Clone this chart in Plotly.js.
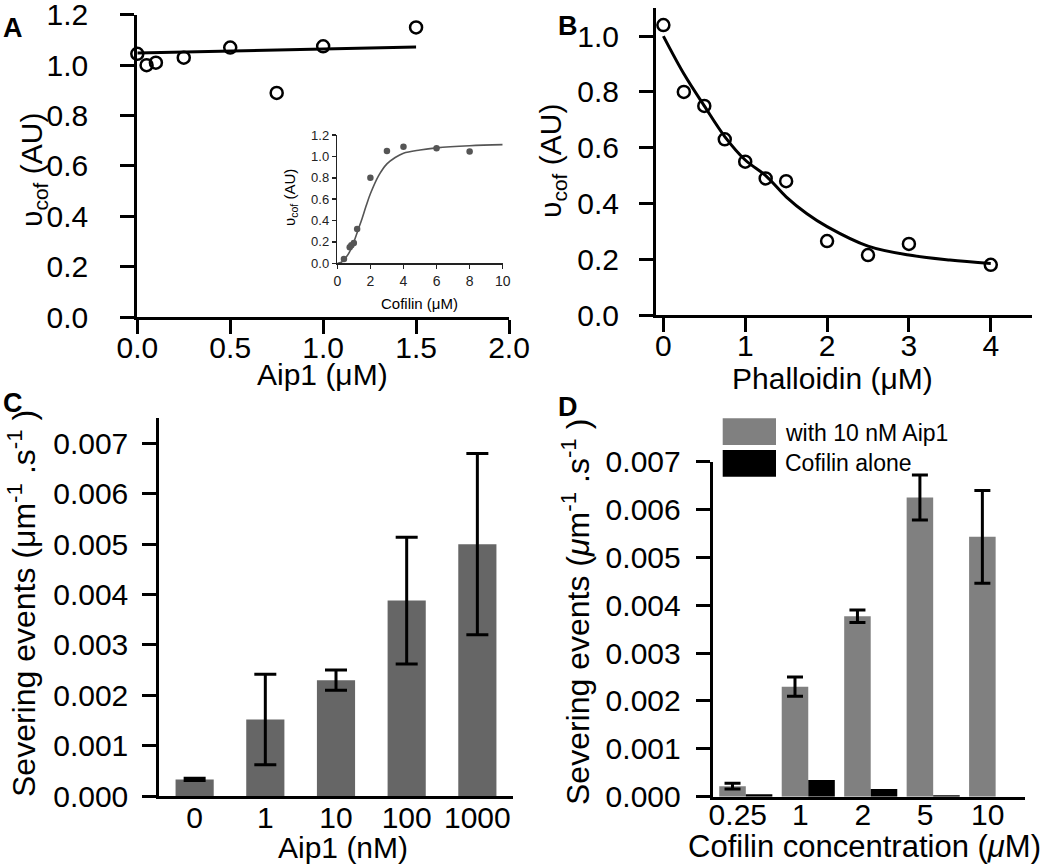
<!DOCTYPE html>
<html>
<head>
<meta charset="utf-8">
<script src="https://cdn.plot.ly/plotly-3.0.1.min.js"></script>
<style>html,body{margin:0;padding:0;background:#fff;}#chart{width:1050px;height:867px;}</style>
</head>
<body>
<div id="chart"></div>
<script>
// ---------- Data ----------
// Panel A
const aip1_uM = [0, 0.05, 0.1, 0.25, 0.5, 0.75, 1.0, 1.5];
const vcof_A = [1.045, 1.0, 1.01, 1.03, 1.07, 0.89, 1.075, 1.15];
const fitA_x = [0, 1.5];
const fitA_y = [1.048, 1.072];
// Panel A inset
const cofilin_inset_uM = [0.15, 0.4, 0.75, 0.85, 1.0, 1.2, 2, 3, 4, 6, 8];
const vcof_inset = [-0.01, 0.04, 0.15, 0.17, 0.19, 0.32, 0.80, 1.05, 1.09, 1.075, 1.045];
const fitInset_x = [0, 0.25, 0.5, 0.75, 1, 1.25, 1.5, 1.75, 2, 2.5, 3, 3.5, 4, 5, 6, 8, 10];
const fitInset_y = [0, 0.01, 0.05, 0.11, 0.2, 0.31, 0.42, 0.54, 0.65, 0.82, 0.93, 0.99, 1.03, 1.06, 1.08, 1.10, 1.11];
// Panel B
const phalloidin_uM = [0, 0.25, 0.5, 0.75, 1.0, 1.25, 1.5, 2.0, 2.5, 3.0, 4.0];
const vcof_B = [1.04, 0.80, 0.75, 0.63, 0.55, 0.49, 0.48, 0.265, 0.215, 0.255, 0.18];
const fitB_x = [0, 0.25, 0.5, 0.75, 1, 1.25, 1.5, 1.75, 2, 2.5, 3, 3.5, 4];
const fitB_y = [1.0, 0.865, 0.75, 0.64, 0.556, 0.50, 0.424, 0.364, 0.317, 0.247, 0.215, 0.197, 0.185];
// Panel C
const aip1_nM = ['0', '1', '10', '100', '1000'];
const sev_C = [0.00033, 0.00152, 0.0023, 0.00388, 0.0050];
const sev_C_err = [0.00002, 0.0009, 0.0002, 0.00126, 0.0018];
// Panel D
const cofilin_conc = ['0.25', '1', '2', '5', '10'];
const sev_D_aip1 = [0.00022, 0.0023, 0.00377, 0.00625, 0.00543];
const sev_D_aip1_err = [0.00006, 0.0002, 0.00013, 0.00047, 0.00097];
const sev_D_alone = [0.00005, 0.00035, 0.00016, 0.00003, 0];
const legendD = ['with 10 nM Aip1', 'Cofilin alone'];

// ---------- Helpers ----------
const W = 1050, H = 867;
const px = v => v / W;
const py = v => 1 - v / H;
const FONT = 'Liberation Sans, Arial, Helvetica, sans-serif';

const axBase = {
  showline: true, linecolor: '#000', linewidth: 3,
  ticks: 'outside', ticklen: 14, tickwidth: 3, tickcolor: '#000',
  showgrid: false, zeroline: false, fixedrange: true,
  ticklabeloverflow: 'allow',
  tickfont: {family: FONT, size: 30, color: '#000'}
};
const insetAx = {
  showline: true, linecolor: '#222', linewidth: 1.5,
  ticks: 'outside', ticklen: 4, tickwidth: 1.5, tickcolor: '#222',
  showgrid: false, zeroline: false, fixedrange: true,
  ticklabeloverflow: 'allow',
  tickfont: {family: FONT, size: 13, color: '#222'}
};
const ax = (extra) => Object.assign({}, axBase, extra);

const traces = [
  // Panel A
  {x: fitA_x, y: fitA_y, xaxis: 'x', yaxis: 'y', mode: 'lines', line: {color: '#000', width: 3}, cliponaxis: false},
  {x: aip1_uM, y: vcof_A, xaxis: 'x', yaxis: 'y', mode: 'markers', cliponaxis: false,
   marker: {symbol: 'circle-open', size: 12, color: '#000', line: {width: 2.5, color: '#000'}}},
  // Inset
  {x: fitInset_x, y: fitInset_y, xaxis: 'x5', yaxis: 'y5', mode: 'lines', line: {color: '#555', width: 1.6, shape: 'spline'}, cliponaxis: false},
  {x: cofilin_inset_uM, y: vcof_inset, xaxis: 'x5', yaxis: 'y5', mode: 'markers', cliponaxis: false,
   marker: {symbol: 'circle', size: 6.5, color: '#555'}},
  // Panel B
  {x: fitB_x, y: fitB_y, xaxis: 'x2', yaxis: 'y2', mode: 'lines', line: {color: '#000', width: 3, shape: 'spline'}, cliponaxis: false},
  {x: phalloidin_uM, y: vcof_B, xaxis: 'x2', yaxis: 'y2', mode: 'markers', cliponaxis: false,
   marker: {symbol: 'circle-open', size: 12, color: '#000', line: {width: 2.5, color: '#000'}}},
  // Panel C
  {type: 'bar', x: aip1_nM, y: sev_C, xaxis: 'x3', yaxis: 'y3', width: 0.54,
   marker: {color: '#666666'},
   error_y: {type: 'data', array: sev_C_err, visible: true, color: '#000', thickness: 3, width: 11}},
  // Panel D
  {type: 'bar', name: legendD[0], x: cofilin_conc, y: sev_D_aip1, xaxis: 'x4', yaxis: 'y4',
   marker: {color: '#808080'},
   error_y: {type: 'data', array: sev_D_aip1_err, visible: true, color: '#000', thickness: 3, width: 8}},
  {type: 'bar', name: legendD[1], x: cofilin_conc, y: sev_D_alone, xaxis: 'x4', yaxis: 'y4',
   marker: {color: '#000000'}}
];

const ann = (text, x, y, size, extra) => Object.assign({
  text, x: px(x), y: py(y), xref: 'paper', yref: 'paper', showarrow: false,
  xanchor: 'center', yanchor: 'middle', font: {family: FONT, size, color: '#000'}
}, extra || {});

const layout = {
  width: W, height: H,
  margin: {l: 0, r: 0, t: 0, b: 0},
  paper_bgcolor: '#fff', plot_bgcolor: 'rgba(0,0,0,0)',
  showlegend: false,
  barmode: 'group', bargap: 0.15, bargroupgap: 0,
  // Panel A
  xaxis: ax({domain: [px(137.3), px(509)], range: [0, 2], dtick: 0.5, tick0: 0, tickformat: '.1f', anchor: 'y', ticklabelstandoff: -12}),
  yaxis: ax({domain: [py(317), py(14.8)], range: [0, 1.2001], dtick: 0.2, tick0: 0, tickformat: '.1f', anchor: 'x', ticklabelstandoff: 26}),
  // Panel B
  xaxis2: ax({domain: [px(656), px(1031.7)], range: [-0.09, 4.5], dtick: 1, tick0: 0, anchor: 'y2', ticklabelstandoff: -12}),
  yaxis2: ax({domain: [py(315), py(8.3)], range: [0, 1.1], dtick: 0.2, tick0: 0, tickformat: '.1f', anchor: 'x2', ticklabelstandoff: 14}),
  // Panel C
  xaxis3: ax({domain: [px(159.3), px(512.7)], type: 'category', range: [-0.5, 4.5], ticks: '', anchor: 'y3', ticklabelstandoff: -7}),
  yaxis3: ax({domain: [py(796), py(418.3)], range: [0, 0.0075], dtick: 0.001, tick0: 0, tickformat: '.3f', anchor: 'x3', ticklabelstandoff: 8}),
  // Panel D
  xaxis4: ax({domain: [px(712.7), px(1025)], type: 'category', range: [-0.53, 4.47], ticks: '', anchor: 'y4', ticklabelstandoff: -11, ticklabelshift: -8}),
  yaxis4: ax({domain: [py(796.7), py(461.7)], range: [0, 0.007], dtick: 0.001, tick0: 0, tickformat: '.3f', anchor: 'x4', ticklabelstandoff: 9}),
  // Inset
  xaxis5: Object.assign({}, insetAx, {domain: [px(337.3), px(502.7)], range: [0, 10], dtick: 2, tick0: 0, anchor: 'y5', tickfont: {family: FONT, size: 14, color: '#222'}}),
  yaxis5: Object.assign({}, insetAx, {domain: [py(263.3), py(135)], range: [0, 1.2001], dtick: 0.2, tick0: 0, tickformat: '.1f', anchor: 'x5'}),
  shapes: [
    {type: 'rect', xref: 'paper', yref: 'paper', x0: px(722.7), x1: px(776), y0: py(445), y1: py(418.3), fillcolor: '#808080', line: {width: 0}},
    {type: 'rect', xref: 'paper', yref: 'paper', x0: px(722.7), x1: px(776), y0: py(476.7), y1: py(450), fillcolor: '#000000', line: {width: 0}}
  ],
  annotations: [
    // panel letters
    ann('<b>A</b>', 13, 28, 27),
    ann('<b>B</b>', 568, 26, 27),
    ann('<b>C</b>', 13, 403, 27),
    ann('<b>D</b>', 568, 407, 27),
    // axis titles A
    ann('υ<sub>cof</sub> (AU)', 34, 170, 30, {textangle: -90}),
    ann('Aip1 (μM)', 322, 375, 30),
    // inset titles
    ann('υ<sub>cof</sub> (AU)', 291, 198, 15, {textangle: -90}),
    ann('Cofilin (μM)', 419, 303, 15),
    // axis titles B
    ann('υ<sub>cof</sub> (AU)', 552, 161, 30, {textangle: -90}),
    ann('Phalloidin (μM)', 832, 379, 30),
    // axis titles C
    ann('Severing events (μm<sup>-1</sup> .s<sup>-1</sup> )', 22, 604, 32, {textangle: -90}),
    ann('Aip1 (nM)', 343, 847, 30),
    // axis titles D
    ann('Severing events (<i>μ</i>m<sup>-1</sup> .s<sup>-1</sup> )', 576, 612, 32, {textangle: -90}),
    ann('Cofilin concentration (<i>μ</i>M)', 864, 846, 31),
    // legend D
    ann(legendD[0], 783, 433, 23, {xanchor: 'left'}),
    ann(legendD[1], 783, 463, 23, {xanchor: 'left'})
  ]
};

Plotly.newPlot('chart', traces, layout, {staticPlot: true, displayModeBar: false});
</script>
</body>
</html>
